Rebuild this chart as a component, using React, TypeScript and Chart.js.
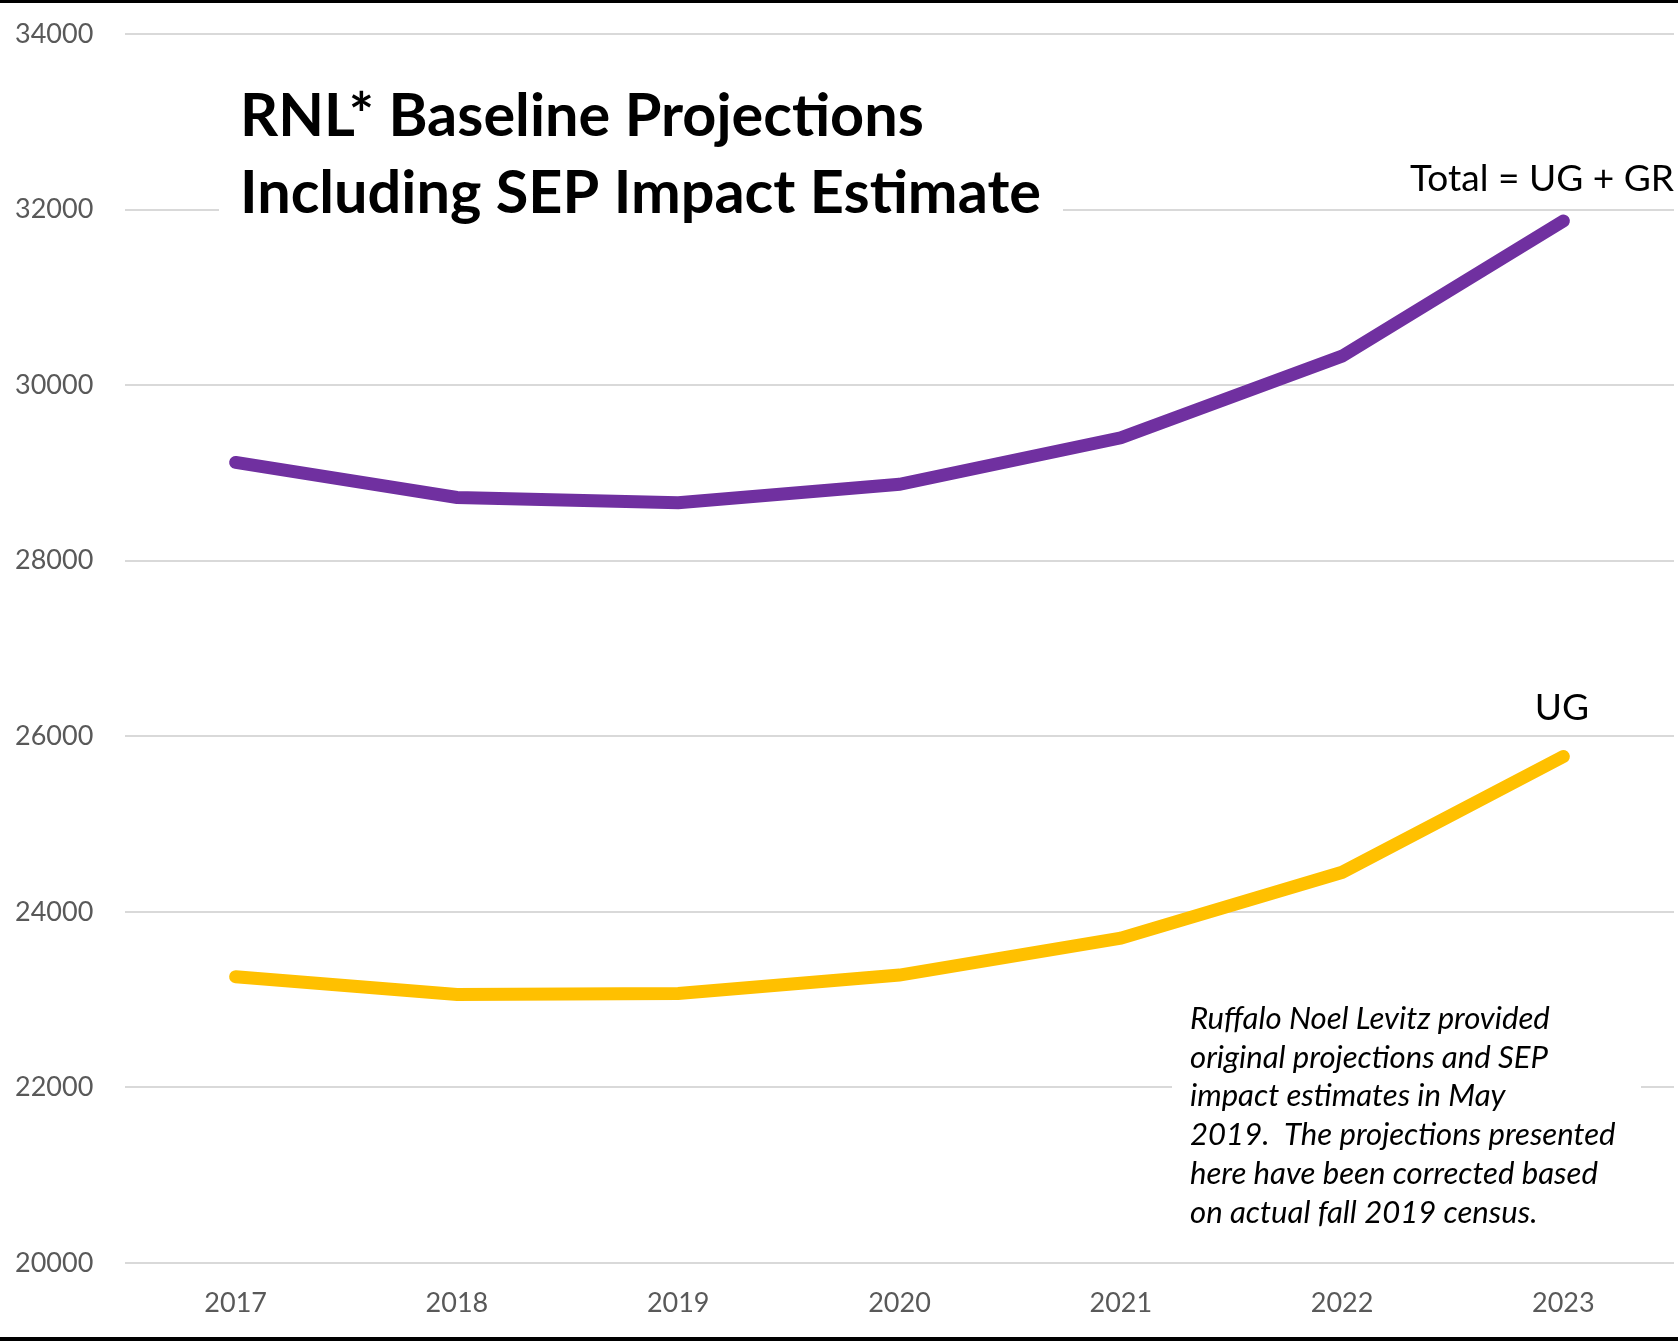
import React, { useEffect, useRef } from "react";
import { Chart, registerables } from "chart.js";

Chart.register(...registerables);

const years = ["2017", "2018", "2019", "2020", "2021", "2022", "2023"];
const totalValues = [29120, 28720, 28660, 28870, 29400, 30330, 31870];
const ugValues = [23260, 23060, 23070, 23280, 23700, 24450, 25770];
const yMin = 20000;
const yMax = 34000;
const yStep = 2000;

const titleLines = ["RNL* Baseline Projections", "Including SEP Impact Estimate"];
const noteLines = [
  "Ruffalo Noel Levitz provided",
  "original projections and SEP",
  "impact estimates in May",
  "2019.  The projections presented",
  "here have been corrected based",
  "on actual fall 2019 census.",
];
const totalLabel = "Total = UG + GR";
const ugLabel = "UG";

const FAMILY = "Lato, 'Open Sans', sans-serif";

function fitFont(ctx: CanvasRenderingContext2D, text: string, style: string, target: number) {
  ctx.font = `${style} 100px ${FAMILY}`;
  const w = ctx.measureText(text).width;
  return (100 * target) / w;
}

const overlayPlugin = {
  id: "overlay",
  beforeDatasetsDraw(chart: any) {
    const ctx: CanvasRenderingContext2D = chart.ctx;
    ctx.save();
    // white boxes masking grid lines
    ctx.fillStyle = "#ffffff";
    ctx.fillRect(219, 60, 1063 - 219, 178);
    ctx.fillRect(1172, 998, 1641 - 1172, 245);

    // title
    ctx.fillStyle = "#000000";
    ctx.textBaseline = "alphabetic";
    ctx.textAlign = "left";
    const tSize = fitFont(ctx, titleLines[0], "bold", 684);
    ctx.font = `bold ${tSize}px ${FAMILY}`;
    ctx.fillText(titleLines[0], 240, 136);
    ctx.fillText(titleLines[1], 240, 213);

    // note
    const nSize = fitFont(ctx, noteLines[0], "italic", 360);
    ctx.font = `italic ${nSize}px ${FAMILY}`;
    noteLines.forEach((line, i) => {
      ctx.fillText(line, 1190, 1029 + i * 38.7);
    });

    // series labels
    const lSize = fitFont(ctx, totalLabel, "normal", 264);
    ctx.font = `normal ${lSize}px ${FAMILY}`;
    ctx.fillText(totalLabel, 1410, 191);
    ctx.textAlign = "center";
    ctx.fillText(ugLabel, 1562, 720);
    ctx.restore();
  },
  afterDraw(chart: any) {
    const ctx: CanvasRenderingContext2D = chart.ctx;
    ctx.save();
    ctx.fillStyle = "#000000";
    ctx.fillRect(0, 0, chart.width, 3);
    ctx.fillRect(0, chart.height - 4, chart.width, 4);
    ctx.restore();
  },
};

export default function App() {
  const canvasRef = useRef<HTMLCanvasElement | null>(null);

  useEffect(() => {
    document.body.style.margin = "0";
    const canvas = canvasRef.current;
    if (!canvas) return;
    const chart = new Chart(canvas, {
      type: "line",
      data: {
        labels: years,
        datasets: [
          {
            label: "Total = UG + GR",
            data: totalValues,
            borderColor: "#7030A0",
            backgroundColor: "#7030A0",
            borderWidth: 13,
            borderCapStyle: "round",
            borderJoinStyle: "miter",
            pointRadius: 0,
            tension: 0,
          },
          {
            label: "UG",
            data: ugValues,
            borderColor: "#FFC000",
            backgroundColor: "#FFC000",
            borderWidth: 13,
            borderCapStyle: "round",
            borderJoinStyle: "miter",
            pointRadius: 0,
            tension: 0,
          },
        ],
      },
      options: {
        responsive: false,
        animation: false,
        devicePixelRatio: 1,
        layout: { padding: { left: 15, right: 4, top: 34, bottom: 0 } },
        plugins: {
          legend: { display: false },
          tooltip: { enabled: false },
          title: { display: false },
        },
        scales: {
          x: {
            type: "category",
            offset: true,
            grid: { display: false, drawTicks: false },
            border: { display: false },
            ticks: {
              color: "#595959",
              font: { family: FAMILY, size: 27 },
              padding: 24,
              maxRotation: 0,
            },
            afterFit: (axis: any) => {
              axis.height = 78;
            },
          },
          y: {
            min: yMin,
            max: yMax,
            grid: { color: "#D9D9D9", lineWidth: 2, drawTicks: false },
            border: { display: false },
            ticks: {
              stepSize: yStep,
              color: "#595959",
              font: { family: FAMILY, size: 27 },
              padding: 0,
              crossAlign: "far",
              callback: (v: any) => String(v),
            },
            afterFit: (axis: any) => {
              axis.width = 110;
            },
          },
        },
      },
      plugins: [overlayPlugin],
    } as any);
    return () => chart.destroy();
  }, []);

  return (
    <div style={{ position: "absolute", left: 0, top: 0, width: 1678, height: 1341, background: "#fff" }}>
      <canvas ref={canvasRef} width={1678} height={1341} style={{ display: "block" }} />
    </div>
  );
}
